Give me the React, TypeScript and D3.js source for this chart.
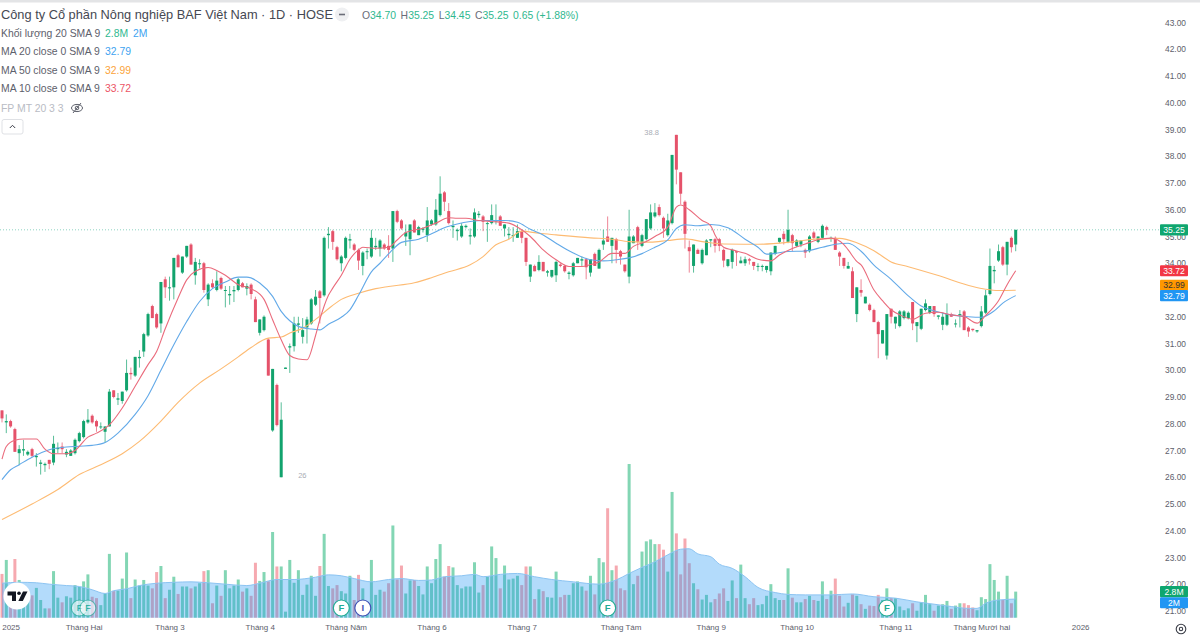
import React, { useEffect, useRef } from "react";
import * as d3 from "d3";

// Daily bars
const opens = [
  28.5, 28.05, 28.1, 27.8, 26.9, 27.0, 26.85, 27.05, 26.75, 26.5,
  26.45, 26.65, 26.55, 27.05, 27.15, 26.85, 26.8, 26.9, 27.35, 27.5,
  28.05, 28.3, 28.1, 27.9, 27.7, 27.9, 29.25, 28.9, 28.85, 29.25,
  29.9, 29.8, 30.45, 30.7, 31.3, 32.4, 32.1, 31.75, 33.4, 33.1,
  33.1, 34.3, 33.65, 34.25, 34.7, 33.55, 34.0, 34.0, 32.65, 33.25,
  33.0, 33.45, 33.0, 32.8, 32.95, 33.0, 33.25, 33.05, 33.2, 32.65,
  31.4, 31.5, 31.15, 27.75, 29.45, 26.0, 30.05, 30.85, 30.9, 31.7,
  31.25, 31.6, 31.75, 32.45, 32.95, 32.8, 35.05, 35.2, 34.6, 34.0,
  34.2, 34.85, 34.7, 34.5, 33.9, 34.45, 34.25, 34.6, 34.55, 34.7,
  34.65, 34.55, 35.95, 35.6, 35.0, 34.9, 35.6, 35.05, 35.25, 35.05,
  35.45, 35.45, 35.8, 36.65, 35.95, 35.35, 35.2, 35.0, 35.35, 35.0,
  35.0, 35.8, 35.75, 35.5, 35.5, 35.6, 35.75, 35.3, 35.05, 35.05,
  34.95, 35.2, 34.95, 33.5, 33.9, 33.75, 34.05, 33.65, 33.5, 33.55,
  33.95, 33.9, 33.6, 33.55, 34.0, 34.1, 34.15, 33.65, 34.35, 33.8,
  34.7, 35.0, 34.65, 34.9, 34.45, 33.95, 33.5, 34.75, 35.35, 34.65,
  34.9, 35.3, 35.75, 36.1, 35.7, 35.05, 35.5, 38.8, 37.4, 36.3,
  34.6, 33.9, 34.5, 34.0, 34.3, 34.85, 34.9, 34.9, 34.5, 33.9,
  34.05, 34.45, 34.0, 34.0, 34.15, 34.05, 33.9, 33.9, 33.75, 33.7,
  34.35, 34.8, 35.1, 34.8, 35.05, 34.65, 34.7, 34.5, 34.45, 35.15,
  34.8, 34.95, 35.35, 34.95, 34.95, 34.4, 34.2, 33.8, 33.7, 32.1,
  33.0, 32.5, 32.45, 32.25, 31.8, 31.0, 30.55, 32.3, 31.75, 31.65,
  31.95, 31.95, 32.55, 31.65, 31.55, 32.25, 32.15, 32.4, 32.0, 31.7,
  31.7, 32.1, 31.75, 32.05, 32.2, 31.6, 31.55, 31.45, 31.65, 32.15,
  32.85, 33.7, 34.1, 34.6, 33.95, 34.95, 34.7,
];
const closes = [
  28.2, 28.1, 27.9, 26.95, 27.05, 27.05, 26.95, 26.8, 26.8, 26.55,
  26.5, 26.5, 27.25, 27.1, 27.05, 26.95, 27.0, 27.4, 27.65, 28.1,
  28.15, 28.05, 27.9, 27.9, 27.9, 29.2, 29.0, 28.95, 29.2, 29.9,
  29.85, 30.5, 30.5, 31.35, 32.1, 31.95, 31.6, 33.3, 33.1, 33.1,
  34.2, 33.85, 34.25, 34.65, 33.95, 34.05, 34.0, 33.0, 33.2, 33.1,
  33.35, 33.05, 33.0, 32.85, 33.0, 33.4, 33.1, 33.15, 32.85, 31.8,
  31.9, 32.0, 29.8, 30.05, 27.95, 28.15, 30.1, 30.9, 31.75, 31.75,
  31.5, 31.9, 32.65, 32.75, 32.7, 34.95, 35.1, 34.8, 34.15, 34.25,
  34.95, 34.9, 34.5, 34.1, 34.4, 34.45, 34.95, 34.65, 34.85, 34.55,
  34.5, 35.95, 35.55, 35.3, 35.15, 35.45, 35.15, 35.35, 35.3, 35.6,
  35.6, 36.0, 36.6, 36.3, 35.5, 35.4, 35.25, 35.4, 35.4, 35.05,
  35.9, 35.85, 35.55, 35.5, 35.8, 35.6, 35.4, 35.45, 35.1, 35.05,
  35.2, 34.95, 34.05, 33.95, 33.7, 34.05, 33.7, 33.7, 33.75, 34.05,
  33.9, 33.7, 33.65, 34.0, 34.2, 34.15, 33.85, 34.15, 33.9, 34.5,
  34.85, 34.8, 34.95, 34.5, 34.25, 33.7, 35.0, 35.0, 34.8, 35.05,
  35.65, 35.9, 35.9, 35.8, 35.3, 35.6, 38.05, 37.5, 36.6, 35.1,
  34.45, 34.7, 34.35, 34.5, 34.85, 34.9, 34.65, 34.65, 34.1, 34.15,
  34.5, 34.4, 34.1, 34.15, 34.1, 33.9, 33.9, 33.9, 33.9, 34.4,
  34.65, 34.95, 34.9, 35.25, 34.75, 34.85, 34.85, 34.4, 35.0, 34.95,
  35.0, 35.4, 35.25, 34.95, 34.5, 34.25, 33.9, 33.9, 32.7, 33.1,
  32.9, 32.75, 32.25, 31.8, 31.35, 31.5, 32.1, 32.0, 32.0, 32.2,
  32.2, 32.15, 31.75, 31.8, 32.3, 32.5, 32.4, 32.1, 32.05, 32.0,
  32.1, 32.0, 31.75, 32.1, 31.5, 31.45, 31.5, 31.5, 32.2, 32.8,
  33.9, 33.75, 34.45, 33.95, 34.8, 34.6, 35.25,
];
const highs = [
  28.5, 28.35, 28.15, 27.85, 27.2, 27.4, 27.0, 27.1, 26.9, 26.65,
  26.55, 26.65, 27.55, 27.3, 27.3, 27.05, 27.05, 27.45, 27.7, 28.15,
  28.55, 28.35, 28.15, 28.05, 27.9, 29.3, 29.25, 29.15, 29.2, 30.4,
  30.1, 30.5, 30.75, 31.4, 32.15, 32.45, 32.15, 33.3, 33.5, 33.5,
  34.2, 34.35, 34.25, 34.65, 34.75, 34.2, 34.15, 34.05, 33.25, 33.4,
  33.7, 33.5, 33.15, 33.15, 33.15, 33.45, 33.3, 33.25, 33.25, 32.75,
  31.9, 32.05, 31.2, 30.05, 29.5, 28.8, 30.1, 31.0, 32.0, 32.0,
  31.95, 32.0, 32.7, 33.0, 33.0, 35.0, 35.35, 35.25, 34.65, 34.3,
  35.0, 35.1, 34.75, 34.55, 34.45, 34.55, 35.25, 34.95, 34.9, 34.75,
  35.05, 35.95, 36.0, 35.65, 35.45, 35.45, 35.65, 35.4, 35.35, 36.1,
  35.65, 36.4, 37.25, 36.7, 36.25, 35.6, 35.3, 35.5, 35.45, 35.3,
  36.05, 35.95, 35.8, 35.55, 36.2, 36.2, 35.8, 35.45, 35.35, 35.35,
  35.45, 35.25, 34.95, 33.95, 33.95, 34.3, 34.05, 33.75, 33.75, 34.1,
  34.0, 33.95, 33.7, 34.05, 34.2, 34.25, 34.2, 34.15, 34.4, 34.55,
  35.25, 35.75, 34.95, 34.95, 34.5, 33.95, 36.0, 35.05, 35.4, 35.1,
  35.65, 36.2, 36.25, 36.2, 35.75, 35.85, 38.05, 38.8, 37.4, 36.35,
  34.85, 34.7, 34.55, 34.55, 34.9, 34.9, 34.95, 34.95, 34.55, 34.15,
  34.55, 34.45, 34.25, 34.25, 34.2, 34.05, 34.0, 33.95, 33.9, 34.4,
  34.65, 34.95, 35.2, 36.0, 35.1, 34.9, 34.85, 34.55, 35.05, 35.2,
  35.0, 35.45, 35.4, 35.0, 35.0, 34.45, 34.2, 34.05, 33.85, 33.1,
  33.4, 32.75, 32.5, 32.3, 31.85, 31.5, 32.1, 32.3, 32.0, 32.25,
  32.25, 32.2, 32.55, 31.8, 32.3, 32.65, 32.4, 32.4, 32.05, 32.15,
  32.5, 32.15, 31.9, 32.25, 32.25, 31.65, 31.55, 31.5, 32.4, 33.0,
  34.55, 33.9, 34.7, 34.65, 34.8, 35.0, 35.25,
];
const lows = [
  28.05, 27.65, 27.85, 26.95, 26.45, 26.8, 26.8, 26.75, 26.4, 26.1,
  26.2, 26.3, 26.45, 26.9, 26.9, 26.75, 26.8, 26.85, 27.3, 27.45,
  28.0, 28.0, 27.7, 27.8, 27.3, 27.9, 28.95, 28.7, 28.75, 29.2,
  29.65, 29.75, 30.1, 30.5, 31.25, 31.95, 31.55, 31.4, 32.7, 32.6,
  32.65, 33.85, 33.6, 34.2, 33.95, 33.2, 33.8, 32.9, 32.4, 33.05,
  32.95, 33.0, 32.35, 32.45, 32.55, 32.95, 33.1, 32.8, 32.65, 31.8,
  31.3, 31.45, 29.8, 27.7, 27.9, 26.0, 30.05, 29.9, 30.7, 31.4,
  31.0, 31.0, 31.7, 32.4, 31.75, 32.75, 34.55, 34.5, 34.1, 33.7,
  34.15, 34.55, 34.45, 33.75, 33.55, 34.15, 34.2, 34.5, 34.25, 34.5,
  34.2, 34.05, 35.5, 35.25, 34.65, 34.3, 35.15, 35.05, 35.15, 34.8,
  35.4, 35.4, 35.75, 35.95, 35.45, 34.95, 34.85, 34.95, 35.3, 34.7,
  34.95, 35.7, 35.2, 34.8, 35.45, 35.45, 35.4, 35.0, 34.9, 34.8,
  34.95, 34.75, 33.9, 33.3, 33.7, 33.7, 33.7, 33.5, 33.45, 33.3,
  33.85, 33.65, 33.4, 33.5, 34.0, 33.9, 33.4, 33.5, 33.9, 33.8,
  34.5, 34.8, 34.0, 34.0, 33.95, 33.65, 33.25, 34.75, 34.5, 34.6,
  34.85, 35.25, 35.7, 35.75, 34.95, 35.0, 35.45, 36.95, 36.2, 34.55,
  33.65, 33.65, 34.35, 33.95, 34.3, 34.6, 34.4, 34.45, 33.85, 33.85,
  33.8, 33.9, 34.0, 33.9, 33.95, 33.75, 33.7, 33.7, 33.65, 33.55,
  34.3, 34.75, 34.7, 34.75, 34.45, 34.6, 34.6, 34.2, 34.4, 34.9,
  34.75, 34.9, 35.05, 34.8, 34.5, 33.9, 33.8, 33.8, 32.7, 31.8,
  32.75, 32.5, 32.2, 31.8, 30.45, 31.0, 30.4, 31.75, 31.55, 31.6,
  31.9, 31.9, 31.5, 31.05, 31.5, 32.2, 32.1, 32.0, 31.9, 31.5,
  31.65, 32.0, 31.6, 31.6, 31.5, 31.25, 31.45, 31.4, 31.6, 32.1,
  32.8, 33.25, 34.05, 33.9, 33.55, 34.4, 34.45,
];
// Volume in millions
const volumes = [
  4.7, 6.2, 3.5, 6.3, 4.05, 1.9, 2.1, 2.4, 3.2, 1.9,
  1.0, 1.0, 5.0, 2.15, 1.65, 2.3, 2.15, 3.5, 3.3, 3.9,
  4.65, 2.25, 2.1, 1.35, 2.6, 6.85, 2.85, 2.9, 4.2, 7.0,
  2.1, 4.1, 3.45, 4.05, 3.45, 3.15, 4.9, 5.55, 2.1, 3.0,
  4.4, 2.55, 3.35, 3.35, 3.15, 3.35, 3.7, 5.0, 5.1, 1.55,
  3.45, 2.35, 5.1, 3.15, 3.45, 4.1, 2.8, 3.15, 2.35, 5.9,
  3.95, 4.9, 3.9, 9.2, 5.5, 5.5, 0.65, 6.2, 3.75, 5.1,
  2.45, 3.55, 4.5, 2.35, 5.55, 9.0, 3.4, 3.15, 3.5, 2.85,
  2.6, 4.5, 1.9, 4.6, 3.15, 1.55, 6.2, 2.45, 3.0, 2.8,
  3.7, 9.9, 4.1, 5.6, 2.6, 4.0, 4.05, 3.4, 2.5, 5.5,
  3.7, 6.3, 7.9, 4.4, 5.55, 5.4, 3.5, 3.15, 3.35, 3.35,
  5.95, 2.7, 3.5, 4.4, 7.65, 6.4, 3.15, 5.6, 4.1, 4.2,
  4.5, 3.5, 5.5, 5.5, 2.0, 3.05, 2.85, 2.2, 2.15, 4.95,
  2.2, 2.45, 2.45, 3.7, 3.9, 3.35, 2.9, 4.5, 2.5, 6.4,
  5.95, 11.75, 5.1, 5.6, 3.15, 2.95, 16.5, 3.6, 4.5, 7.1,
  8.2, 8.4, 7.9, 7.9, 7.3, 4.95, 13.5, 9.05, 4.65, 8.5,
  5.85, 3.7, 3.05, 1.95, 2.45, 1.65, 2.0, 2.6, 3.15, 1.8,
  4.0, 2.1, 5.7, 2.1, 1.45, 2.1, 1.35, 1.45, 2.35, 3.6,
  2.1, 1.9, 1.9, 5.3, 2.15, 1.65, 1.65, 2.0, 2.35, 1.9,
  1.8, 3.9, 2.0, 2.9, 4.2, 2.35, 1.2, 1.6, 2.5, 2.35,
  1.45, 0.95, 1.3, 1.25, 2.45, 1.9, 3.15, 2.1, 2.1, 1.2,
  0.8, 1.0, 1.55, 0.75, 1.65, 2.45, 1.45, 0.75, 1.3, 1.45,
  1.8, 0.95, 1.3, 1.55, 1.55, 1.35, 1.1, 0.8, 2.2, 2.0,
  5.75, 4.05, 2.8, 1.9, 4.5, 1.55, 2.8,
];

// Moving averages, read at the bars where the line bends
const ma10Bars = [0, 1, 3, 5, 8, 10, 12, 15, 17, 20, 22, 25, 28, 31, 34, 36, 38, 41, 43, 45, 48, 50, 52, 55, 58, 61, 63, 65, 67, 69, 71, 73, 74, 76, 77, 79, 81, 83, 84, 87, 90, 92, 94, 98, 101, 104, 106, 108, 111, 114, 118, 121, 123, 126, 129, 132, 135, 137, 139, 142, 145, 147, 150, 152, 155, 157, 158, 160, 163, 165, 166, 168, 170, 173, 176, 179, 181, 184, 187, 190, 193, 196, 197, 199, 200, 203, 205, 207, 209, 212, 215, 218, 221, 224, 227, 229, 232, 234, 236];
const ma10Values = [26.68, 27.15, 27.38, 27.43, 27.43, 27.05, 26.88, 26.88, 27.0, 27.5, 27.65, 27.96, 28.59, 29.4, 30.21, 30.7, 31.55, 32.7, 33.38, 33.7, 33.84, 33.73, 33.55, 33.2, 33.05, 32.65, 31.89, 31.14, 30.55, 30.42, 30.39, 31.3, 31.89, 32.8, 33.07, 33.55, 34.15, 34.5, 34.6, 34.56, 34.6, 34.87, 35.15, 35.31, 35.5, 35.7, 35.68, 35.68, 35.6, 35.56, 35.5, 35.25, 35.0, 34.5, 34.13, 33.88, 33.88, 33.95, 34.05, 34.37, 34.37, 34.63, 34.81, 35.0, 35.35, 36.1, 36.18, 36.0, 35.6, 35.4, 35.06, 34.6, 34.5, 34.37, 34.15, 34.09, 34.31, 34.55, 34.72, 34.88, 34.94, 34.7, 34.5, 34.07, 33.94, 33.0, 32.6, 32.26, 32.07, 31.91, 32.13, 32.17, 32.07, 32.01, 31.76, 32.05, 32.6, 33.2, 33.72];
const ma20Bars = [0, 2, 4, 7, 11, 15, 18, 21, 24, 27, 31, 34, 37, 40, 43, 46, 49, 52, 55, 57, 60, 63, 65, 67, 69, 72, 74, 76, 79, 81, 83, 86, 88, 90, 93, 97, 100, 103, 106, 109, 112, 117, 120, 123, 126, 129, 133, 137, 140, 143, 146, 149, 152, 155, 157, 159, 162, 165, 169, 173, 176, 178, 180, 183, 187, 191, 194, 197, 200, 203, 207, 211, 214, 218, 221, 225, 228, 231, 233, 236];
const ma20Values = [25.91, 26.28, 26.47, 26.75, 27.03, 27.13, 27.16, 27.19, 27.3, 27.65, 28.35, 29.05, 30.0, 30.95, 31.82, 32.57, 33.05, 33.3, 33.48, 33.48, 33.26, 32.76, 32.2, 31.85, 31.64, 31.54, 31.51, 31.72, 31.98, 32.26, 32.8, 33.68, 34.0, 34.35, 34.78, 34.9, 35.1, 35.33, 35.47, 35.56, 35.6, 35.6, 35.53, 35.27, 35.06, 34.75, 34.38, 34.13, 34.09, 34.13, 34.2, 34.36, 34.6, 34.87, 35.3, 35.44, 35.4, 35.45, 35.33, 34.9, 34.6, 34.34, 34.37, 34.44, 34.46, 34.6, 34.71, 34.75, 34.45, 33.93, 33.4, 32.78, 32.4, 32.18, 32.07, 32.0, 31.98, 32.22, 32.51, 32.79];
const ma50Bars = [0, 7, 13, 18, 23, 28, 32, 37, 41, 46, 51, 55, 58, 62, 65, 67, 70, 73, 76, 79, 83, 87, 90, 96, 100, 104, 109, 112, 115, 118, 121, 125, 129, 137, 142, 146, 151, 155, 159, 163, 168, 176, 184, 190, 195, 199, 203, 207, 211, 218, 226, 229, 232, 236];
const ma50Values = [24.42, 25.0, 25.54, 26.1, 26.47, 26.88, 27.34, 28.1, 28.8, 29.52, 30.05, 30.5, 30.85, 31.2, 31.24, 31.39, 31.57, 31.9, 32.3, 32.65, 32.88, 33.05, 33.13, 33.27, 33.46, 33.68, 33.94, 34.25, 34.69, 34.9, 35.2, 35.12, 35.06, 34.95, 34.9, 34.81, 34.79, 34.85, 34.91, 34.81, 34.72, 34.71, 34.8, 34.91, 34.93, 34.77, 34.47, 34.05, 33.87, 33.54, 33.13, 33.03, 32.98, 32.99];
const volMaBars = [0, 4, 8, 11, 15, 18, 21, 24, 26, 29, 32, 36, 40, 44, 48, 52, 57, 60, 64, 68, 73, 76, 79, 82, 86, 90, 93, 97, 100, 103, 107, 110, 112, 116, 120, 124, 128, 133, 139, 143, 146, 149, 152, 155, 158, 160, 162, 165, 167, 170, 173, 176, 180, 183, 187, 193, 198, 203, 208, 213, 217, 221, 225, 227, 229, 232, 236];
const volMaValues = [3.7, 3.8, 3.75, 3.6, 3.45, 3.35, 3.0, 2.6, 2.9, 3.1, 3.45, 3.7, 3.8, 3.85, 3.75, 3.6, 3.45, 3.7, 4.1, 4.1, 4.35, 4.6, 4.5, 4.2, 3.85, 4.1, 4.2, 4.0, 4.05, 4.4, 4.5, 4.65, 4.4, 4.65, 4.75, 4.4, 4.1, 3.85, 3.6, 4.05, 4.75, 5.4, 6.0, 6.75, 7.35, 7.4, 6.85, 6.55, 5.75, 5.3, 4.4, 3.25, 2.7, 2.5, 2.45, 2.45, 2.55, 2.25, 2.1, 1.7, 1.45, 1.2, 1.0, 1.0, 1.55, 1.9, 2.0];

const priceTicks = d3.range(21, 44);
const timeTickBars = [2, 19, 39, 60, 80, 100, 121, 144, 165, 185, 208, 228, 251];
const timeTickLabels = ["2025", "Tháng Hai", "Tháng 3", "Tháng 4", "Tháng Năm", "Tháng 6", "Tháng 7", "Tháng Tám", "Tháng 9", "Tháng 10", "Tháng 11", "Tháng Mười hai", "2026"];

// Event badges on the volume pane
const eventBars = [18, 20, 79, 84, 141, 206];
const eventLetters = ["F", "F", "F", "I", "F", "F"];

const legendRows = [
  { label: "Khối lượng 20 SMA 9", values: ["2.8M", "2M"], colors: ["#2fb88f", "#3ea3f0"] },
  { label: "MA 20 close 0 SMA 9", values: ["32.79"], colors: ["#3ea3f0"] },
  { label: "MA 50 close 0 SMA 9", values: ["32.99"], colors: ["#fba33a"] },
  { label: "MA 10 close 0 SMA 9", values: ["33.72"], colors: ["#ec5566"] },
];
const ohlcLabels = ["O", "H", "L", "C"];
const ohlcValues = ["34.70", "35.25", "34.45", "35.25"];

const UP = "#12a36d";
const DOWN = "#e5526a";
const FONT = "Arial, 'Liberation Sans', sans-serif";

const App: React.FC = () => {
  const svgRef = useRef<SVGSVGElement | null>(null);

  useEffect(() => {
    if (!svgRef.current) return;
    const svg = d3.select(svgRef.current);
    svg.selectAll("*").remove();
    svg.style("font-family", FONT);

    const x = d3.scaleLinear().domain([0, 236]).range([2, 1015.7]);
    const y = d3.scaleLinear().domain([21, 43]).range([611, 22.5]);
    const yVol = d3.scaleLinear().domain([0, 16.5]).range([617.7, 464]);
    const barWidth = 3;

    svg.append("rect").attr("width", 1200).attr("height", 638).attr("fill", "#fff");
    svg.append("rect").attr("width", 1200).attr("height", 2.5).attr("fill", "#e3e4e6");

    // Volume bars
    const bars = d3.range(volumes.length);
    svg
      .append("g")
      .selectAll("rect")
      .data(bars)
      .join("rect")
      .attr("x", (i) => x(i) - barWidth / 2)
      .attr("width", barWidth)
      .attr("y", (i) => yVol(volumes[i]))
      .attr("height", (i) => yVol(0) - yVol(volumes[i]))
      .attr("fill", (i) => (closes[i] >= opens[i] ? "#83d6b4" : "#f6a9b0"));

    // Volume MA area on top of the bars
    const volPts = volMaBars.map((b, i) => [b, volMaValues[i]] as [number, number]);
    svg
      .append("path")
      .datum(volPts)
      .attr("fill", "#2196f3")
      .attr("fill-opacity", 0.34)
      .attr(
        "d",
        d3
          .area<[number, number]>()
          .x((d) => x(d[0]))
          .y0(yVol(0))
          .y1((d) => yVol(d[1]))
          .curve(d3.curveMonotoneX)
      );
    svg
      .append("path")
      .datum(volPts)
      .attr("fill", "none")
      .attr("stroke", "#8cc4f2")
      .attr("stroke-width", 1)
      .attr(
        "d",
        d3
          .line<[number, number]>()
          .x((d) => x(d[0]))
          .y((d) => yVol(d[1]))
          .curve(d3.curveMonotoneX)
      );

    // Last price line
    svg
      .append("line")
      .attr("x1", 0)
      .attr("x2", 1160)
      .attr("y1", y(35.25))
      .attr("y2", y(35.25))
      .attr("stroke", "#8ed3c2")
      .attr("stroke-width", 1)
      .attr("stroke-dasharray", "1 2");

    // Candles
    const candles = svg.append("g").selectAll("g").data(bars).join("g");
    candles
      .append("line")
      .attr("x1", (i) => x(i))
      .attr("x2", (i) => x(i))
      .attr("y1", (i) => y(highs[i]))
      .attr("y2", (i) => y(lows[i]))
      .attr("stroke", (i) => (closes[i] >= opens[i] ? UP : DOWN))
      .attr("stroke-opacity", 0.7)
      .attr("stroke-width", 1);
    candles
      .append("rect")
      .attr("x", (i) => x(i) - barWidth / 2)
      .attr("width", barWidth)
      .attr("y", (i) => y(Math.max(opens[i], closes[i])))
      .attr("height", (i) => Math.max(1, Math.abs(y(opens[i]) - y(closes[i]))))
      .attr("fill", (i) => (closes[i] >= opens[i] ? UP : DOWN));

    // Moving averages
    const maLine = d3
      .line<[number, number]>()
      .x((d) => x(d[0]))
      .y((d) => y(d[1]))
      .curve(d3.curveMonotoneX);
    const maSeries: [number[], number[], string][] = [
      [ma50Bars, ma50Values, "#fdbb73"],
      [ma20Bars, ma20Values, "#62a9e8"],
      [ma10Bars, ma10Values, "#ea6b7c"],
    ];
    maSeries.forEach(([b, v, color]) => {
      svg
        .append("path")
        .datum(b.map((d, i) => [d, v[i]] as [number, number]))
        .attr("fill", "none")
        .attr("stroke", color)
        .attr("stroke-width", 1.1)
        .attr("d", maLine);
    });

    // High / low marks
    svg
      .append("text")
      .attr("x", x(157) - 32)
      .attr("y", y(38.8) + 0.5)
      .attr("font-size", 7.5)
      .attr("fill", "#a9adb5")
      .text("38.8");
    svg
      .append("text")
      .attr("x", x(65) + 17)
      .attr("y", y(26) + 1)
      .attr("font-size", 7.5)
      .attr("fill", "#a9adb5")
      .text("26");

    // Event badges
    const badges = svg.append("g").selectAll("g").data(eventBars).join("g")
      .attr("transform", (b) => `translate(${x(b)},608)`)
      .attr("opacity", (_, i) => (i < 2 ? 0.6 : 1));
    badges
      .append("circle")
      .attr("r", 8)
      .attr("fill", "#fff")
      .attr("stroke", (_, i) => (eventLetters[i] === "I" ? "#3f51b5" : "#22ab94"))
      .attr("stroke-width", 1.2);
    badges
      .append("text")
      .attr("text-anchor", "middle")
      .attr("dy", "0.35em")
      .attr("font-size", 9.5)
      .attr("font-weight", 700)
      .attr("fill", (_, i) => (eventLetters[i] === "I" ? "#3f51b5" : "#22ab94"))
      .text((_, i) => eventLetters[i]);

    // TradingView mark
    const logo = svg.append("g").attr("transform", "translate(17,596)");
    logo.append("circle").attr("r", 13.5).attr("fill", "#fff");
    logo.append("path").attr("fill", "#131722").attr("d", "M-9.5,-4.5 h8.5 v9.5 h-4 v-5.5 h-4.5 z");
    logo.append("circle").attr("cx", 2).attr("cy", -2.7).attr("r", 1.8).attr("fill", "#131722");
    logo.append("path").attr("fill", "#131722").attr("d", "M6,-4.5 h4.5 l-4.7,9.5 h-4.5 z");

    // Price axis
    const priceAxis = svg
      .append("g")
      .attr("transform", "translate(1157,0)")
      .call(
        d3
          .axisRight(y)
          .tickValues(priceTicks)
          .tickSize(0)
          .tickPadding(8)
          .tickFormat((d) => d3.format(".2f")(Number(d)))
      );
    priceAxis.select(".domain").remove();
    priceAxis
      .selectAll("text")
      .attr("font-family", FONT)
      .attr("font-size", 8.4)
      .attr("fill", "#5d606b");

    // Time axis
    const timeAxis = svg
      .append("g")
      .attr("transform", "translate(0,621)")
      .call(
        d3
          .axisBottom(x)
          .tickValues(timeTickBars)
          .tickSize(0)
          .tickPadding(3)
          .tickFormat((_, i) => timeTickLabels[i])
      );
    timeAxis.select(".domain").remove();
    timeAxis
      .selectAll("text")
      .attr("font-family", FONT)
      .attr("font-size", 8)
      .attr("fill", "#5d606b");

    // Scale tags: TradingView pushes crowded tags apart, so some sit off their value
    const tags: [number, string, string, string][] = [
      [y(35.25), "35.25", "#0fa66f", "#fff"],
      [y(33.72), "33.72", "#f23645", "#fff"],
      [y(32.99) - 5, "32.99", "#ff9800", "#333"],
      [y(32.79), "32.79", "#2196f3", "#fff"],
      [yVol(2.8), "2.8M", "#0fa66f", "#fff"],
      [yVol(2) + 3.7, "2M", "#2196f3", "#fff"],
    ];
    const tag = svg.append("g").selectAll("g").data(tags).join("g");
    tag
      .append("rect")
      .attr("x", 1160)
      .attr("y", (d) => d[0] - 5.6)
      .attr("width", 28)
      .attr("height", 11.2)
      .attr("rx", 1)
      .attr("fill", (d) => d[2]);
    tag
      .append("text")
      .attr("x", 1174)
      .attr("y", (d) => d[0])
      .attr("dy", "0.35em")
      .attr("text-anchor", "middle")
      .attr("font-size", 8.6)
      .attr("fill", (d) => d[3])
      .text((d) => d[1]);

    // Settings icon
    const gear = svg.append("g").attr("transform", "translate(1181,629)").attr("fill", "none").attr("stroke", "#3b3e48");
    gear.append("circle").attr("r", 4.8).attr("stroke-width", 1.1);
    gear.append("circle").attr("r", 1.7).attr("stroke-width", 1.1);

    // Legend
    svg
      .append("text")
      .attr("x", 1)
      .attr("y", 18.5)
      .attr("font-size", 12.8)
      .attr("fill", "#454852")
      .text("Công ty Cổ phần Nông nghiệp BAF Việt Nam · 1D · HOSE");
    svg.append("circle").attr("cx", 342).attr("cy", 14.5).attr("r", 7).attr("fill", "#eff0f2");
    svg.append("rect").attr("x", 339).attr("y", 13.7).attr("width", 6).attr("height", 1.6).attr("fill", "#6a6d78");

    const ohlc = svg
      .append("text")
      .attr("x", 362)
      .attr("y", 18.5)
      .attr("font-size", 10.4)
      .attr("fill", "#2fb88f");
    ohlcLabels.forEach((l, i) => {
      ohlc.append("tspan").attr("fill", "#6a6d78").attr("dx", i ? 4.5 : 0).text(l);
      ohlc.append("tspan").text(ohlcValues[i]);
    });
    ohlc.append("tspan").attr("dx", 4.5).text("0.65 (+1.88%)");

    legendRows.forEach((row, r) => {
      const rowY = 36.5 + r * 18.6;
      svg
        .append("text")
        .attr("x", 1)
        .attr("y", rowY)
        .attr("font-size", 10.4)
        .attr("fill", "#5d606b")
        .text(row.label);
      row.values.forEach((v, i) => {
        svg
          .append("text")
          .attr("x", 105 + i * 28)
          .attr("y", rowY)
          .attr("font-size", 10.4)
          .attr("fill", row.colors[i])
          .text(v);
      });
    });

    svg
      .append("text")
      .attr("x", 1)
      .attr("y", 111.5)
      .attr("font-size", 10.4)
      .attr("fill", "#b9bcc4")
      .text("FP MT 20 3 3");
    const eye = svg.append("g").attr("transform", "translate(77,108)").attr("fill", "none").attr("stroke", "#5d606b").attr("stroke-width", 1);
    eye.append("ellipse").attr("rx", 5.5).attr("ry", 3.6);
    eye.append("circle").attr("r", 1.8);
    eye.append("path").attr("d", "M-4,5 L4,-5");

    svg
      .append("rect")
      .attr("x", 2)
      .attr("y", 119.5)
      .attr("width", 21)
      .attr("height", 14.5)
      .attr("rx", 2)
      .attr("fill", "#fff")
      .attr("stroke", "#dfe1e5");
    svg
      .append("path")
      .attr("d", "M9.8,128 L12.5,125.3 L15.2,128")
      .attr("fill", "none")
      .attr("stroke", "#3b3e48")
      .attr("stroke-width", 1);
  }, []);

  return (
    <svg
      ref={svgRef}
      width={1200}
      height={638}
      style={{ position: "absolute", left: 0, top: 0, display: "block" }}
    ></svg>
  );
};

export default App;
